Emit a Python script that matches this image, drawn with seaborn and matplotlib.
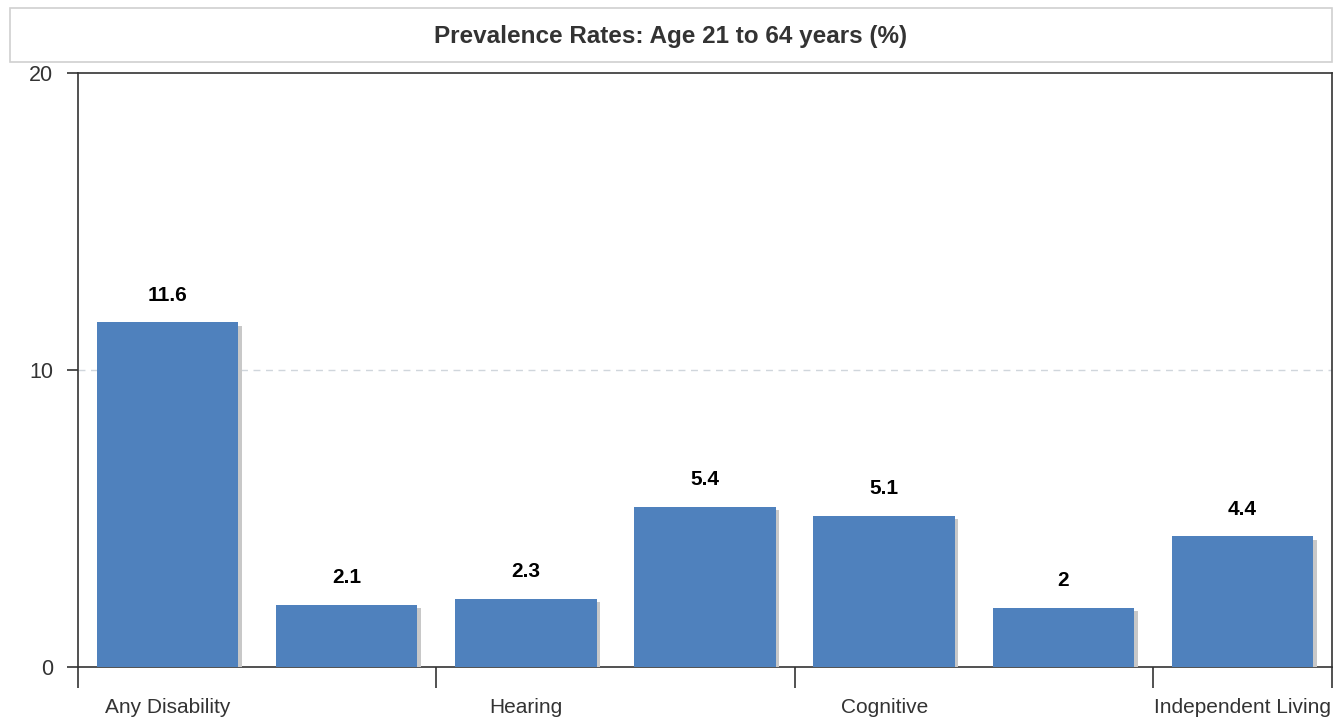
import matplotlib
matplotlib.use('Agg')
import matplotlib.pyplot as plt
import matplotlib.patheffects as pe
from matplotlib.patches import Rectangle
import seaborn as sns
import pandas as pd

# Data
categories = ['Any Disability', 'Visual', 'Hearing', 'Ambulatory',
              'Cognitive', 'Self-Care', 'Independent Living']
rates = [11.6, 2.1, 2.3, 5.4, 5.1, 2.0, 4.4]
value_labels = ['11.6', '2.1', '2.3', '5.4', '5.1', '2', '4.4']
shown_labels = ['Any Disability', '', 'Hearing', '', 'Cognitive', '', 'Independent Living']

df = pd.DataFrame({'category': categories, 'rate': rates})

sns.set_style('white')
plt.rcParams['font.family'] = ['Liberation Sans', 'DejaVu Sans']

fig = plt.figure(figsize=(13.4, 7.21), dpi=100)
ax = fig.add_axes([78 / 1340, 54 / 721, 1254 / 1340, 594 / 721])

sns.barplot(data=df, x='category', y='rate', color='#4f81bd', saturation=1,
            width=0.79, ax=ax, zorder=3)

# drop shadow on bars
for bar in ax.patches:
    bar.set_path_effects([pe.SimplePatchShadow(offset=(2.5, -2.5),
                                               shadow_rgbFace='#c8c8c8', alpha=1),
                          pe.Normal()])
    bar.set_linewidth(0)

# value labels
for i, (v, lab) in enumerate(zip(rates, value_labels)):
    ax.annotate(lab, (i, v), xytext=(0, 12.5), textcoords='offset points',
                ha='center', va='bottom', fontsize=15, fontweight='bold',
                color='black')

ax.set_xlim(-0.5, 6.5)
ax.set_ylim(0, 20)
ax.set_yticks([0, 10, 20])
ax.set_yticklabels(['0', '10', '20'])
ax.set_xticks(range(len(categories)))
ax.set_xticklabels(shown_labels)
ax.set_xticks([-0.5, 1.5, 3.5, 5.5, 6.5], minor=True)
ax.tick_params(axis='x', which='major', length=0, pad=22, labelsize=15,
               labelcolor='#333333')
ax.tick_params(axis='x', which='minor', length=15, width=1.2, color='#333333',
               direction='out', bottom=True)
ax.tick_params(axis='y', length=8, width=1.2, color='#333333', direction='out',
               left=True, labelsize=15.5, labelcolor='#333333', pad=10)
ax.set_xlabel('')
ax.set_ylabel('')

ax.axhline(10, color='#d0d6dc', linestyle=(0, (5, 4)), linewidth=1, zorder=1)

for s in ax.spines.values():
    s.set_visible(True)
    s.set_color('#333333')
    s.set_linewidth(1.2)

# title box
fig.patches.append(Rectangle((10 / 1340, (721 - 62) / 721), 1322 / 1340, 54 / 721,
                             transform=fig.transFigure, facecolor='white',
                             edgecolor='#d0d0d0', linewidth=1.2))
fig.text((10 + 1332) / 2 / 1340, (721 - 36) / 721,
         'Prevalence Rates: Age 21 to 64 years (%)',
         ha='center', va='center', fontsize=17.5, fontweight='bold', color='#333333')

fig.savefig('out.png', dpi=100)
